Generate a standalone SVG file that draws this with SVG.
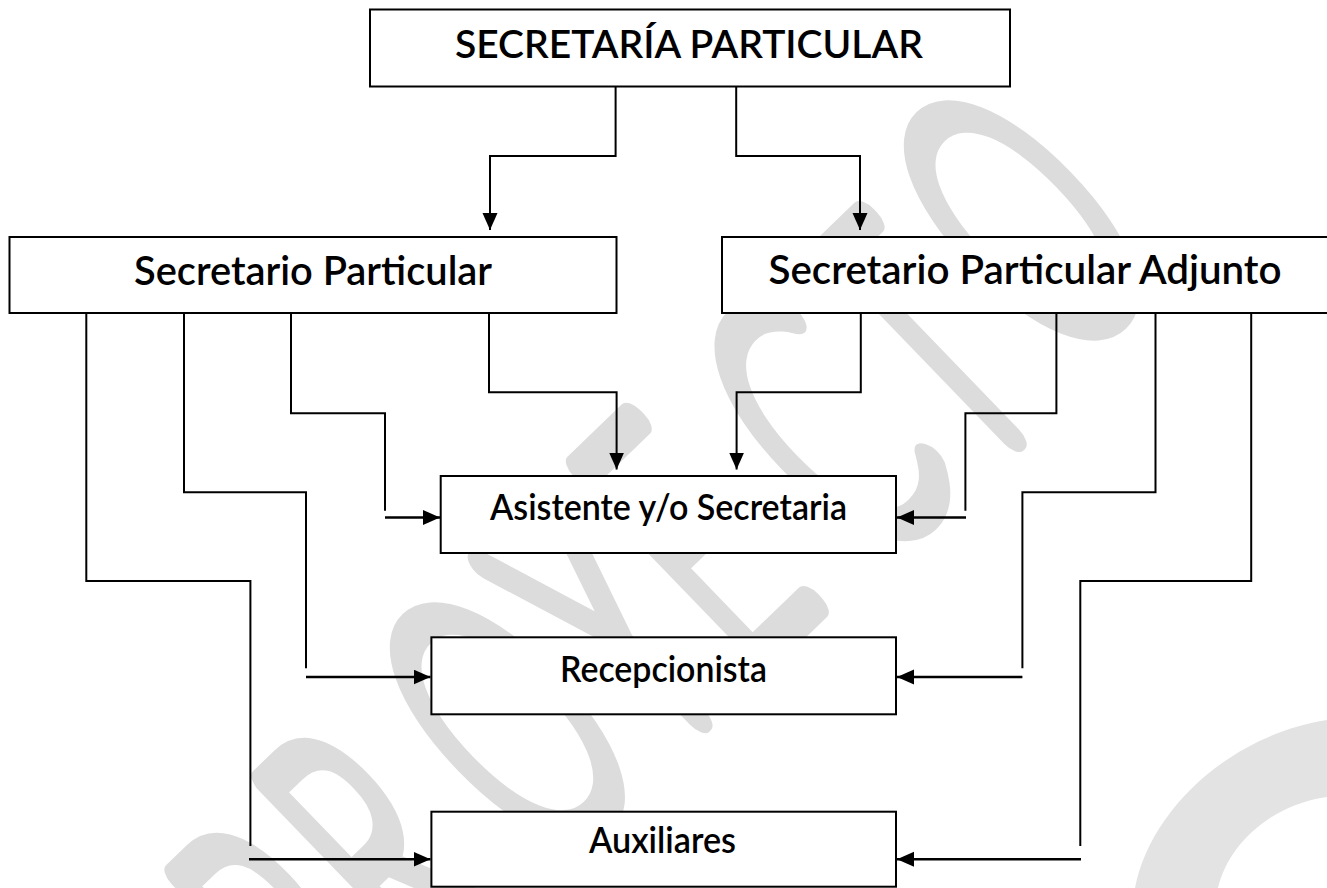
<svg xmlns="http://www.w3.org/2000/svg" width="1327" height="888" viewBox="0 0 1327 888">
  <defs>
    <marker id="arrow" markerUnits="userSpaceOnUse" markerWidth="18" markerHeight="16" refX="17" refY="7.5" orient="auto">
      <path d="M0,0 L17,7.5 L0,15 Z" fill="#000"/>
    </marker>
    <style>
      .wm { font-family: Lato, "Noto Sans", sans-serif; font-weight: 100; font-size: 370px; fill: #dcdcdc; stroke: #dcdcdc; stroke-width: 29px; stroke-linejoin: round; stroke-linecap: round; text-anchor: middle; vector-effect: non-scaling-stroke; }
      .box { fill: #fff; stroke: #000; stroke-width: 2; }
      .lbl { font-family: Lato, "Liberation Sans", sans-serif; font-weight: 600; fill: #000; }
      .ln { fill: none; stroke: #000; stroke-width: 2; }
      .ar { fill: none; stroke: #000; stroke-width: 2.6; marker-end: url(#arrow); }
      .arv { fill: none; stroke: #000; stroke-width: 2; marker-end: url(#arrow); }
    </style>
  </defs>
  <rect x="0" y="0" width="1327" height="888" fill="#fff"/>

  <g id="watermark">
    <text class="wm" transform="translate(288,948) rotate(-44) scale(0.5,1)" x="0" y="133">P</text>
    <text class="wm" transform="translate(377,852) rotate(-44) scale(0.5,1)" x="0" y="133">R</text>
    <text class="wm" transform="translate(505,720) rotate(-44) scale(0.5,1)" x="0" y="133">O</text>
    <text class="wm" transform="translate(605,622) rotate(-44) scale(0.5,1)" x="0" y="133">Y</text>
    <text class="wm" transform="translate(691,538) rotate(-44) scale(0.5,1)" x="0" y="133">E</text>
    <text class="wm" transform="translate(822,425) rotate(-44) scale(0.5,1)" x="0" y="133">C</text>
    <text class="wm" transform="translate(919,341) rotate(-44) scale(0.5,1)" x="0" y="133">T</text>
    <text class="wm" transform="translate(1019,218) rotate(-44) scale(0.5,1)" x="0" y="133">O</text>
    <path d="M1135,888 C1150,810 1230,735 1327,720 L1327,797 C1270,805 1228,845 1218,888 Z" fill="#e3e3e3"/>
  </g>

  <g id="connectors">
    <path class="arv" d="M615.6,86 V156 H490 V230"/>
    <path class="arv" d="M736.2,86 V156 H860 V230"/>

    <path class="arv" d="M489,314 V392.3 H616.6 V469.5"/>
    <path class="ln" d="M291,314 V413.3 H385 V510.7"/>
    <path class="ar" d="M385,517.5 H440"/>
    <path class="ln" d="M184,314 V492.3 H306 V668.3"/>
    <path class="ar" d="M306,677 H430.5"/>
    <path class="ln" d="M86.3,314 V581 H250.4 V846"/>
    <path class="ar" d="M249,859.3 H430.5"/>

    <path class="arv" d="M860.8,314 V392.3 H736.6 V469.5"/>
    <path class="ln" d="M1056.4,314 V413.3 H965.4 V510.7"/>
    <path class="ar" d="M966,517.5 H897"/>
    <path class="ln" d="M1155.5,314 V492.3 H1022.4 V668.3"/>
    <path class="ar" d="M1022.4,677 H897"/>
    <path class="ln" d="M1251.2,314 V581 H1080.3 V846"/>
    <path class="ar" d="M1081,859.3 H897"/>
  </g>

  <g id="node-secretaria">
    <rect class="box" x="370" y="9.5" width="640" height="77"/>
    <text class="lbl" x="455" y="58" font-size="38" textLength="468" lengthAdjust="spacingAndGlyphs">SECRETARÍA PARTICULAR</text>
  </g>
  <g id="node-secretario">
    <rect class="box" x="9.5" y="237" width="607" height="76"/>
    <text class="lbl" x="134" y="285" font-size="40" textLength="358" lengthAdjust="spacingAndGlyphs">Secretario Particular</text>
  </g>
  <g id="node-adjunto">
    <rect class="box" x="722" y="237" width="612" height="76"/>
    <text class="lbl" x="768.5" y="284" font-size="40" textLength="513" lengthAdjust="spacingAndGlyphs">Secretario Particular Adjunto</text>
  </g>
  <g id="node-asistente">
    <rect class="box" x="440.7" y="476" width="455.3" height="77"/>
    <text class="lbl" x="490" y="520" font-size="36" textLength="357" lengthAdjust="spacingAndGlyphs">Asistente y/o Secretaria</text>
  </g>
  <g id="node-recepcionista">
    <rect class="box" x="431.4" y="637.3" width="464.6" height="77"/>
    <text class="lbl" x="560" y="682" font-size="36" textLength="207" lengthAdjust="spacingAndGlyphs">Recepcionista</text>
  </g>
  <g id="node-auxiliares">
    <rect class="box" x="431.4" y="811.7" width="464.6" height="75"/>
    <text class="lbl" x="589" y="853" font-size="36" textLength="147" lengthAdjust="spacingAndGlyphs">Auxiliares</text>
  </g>
</svg>
